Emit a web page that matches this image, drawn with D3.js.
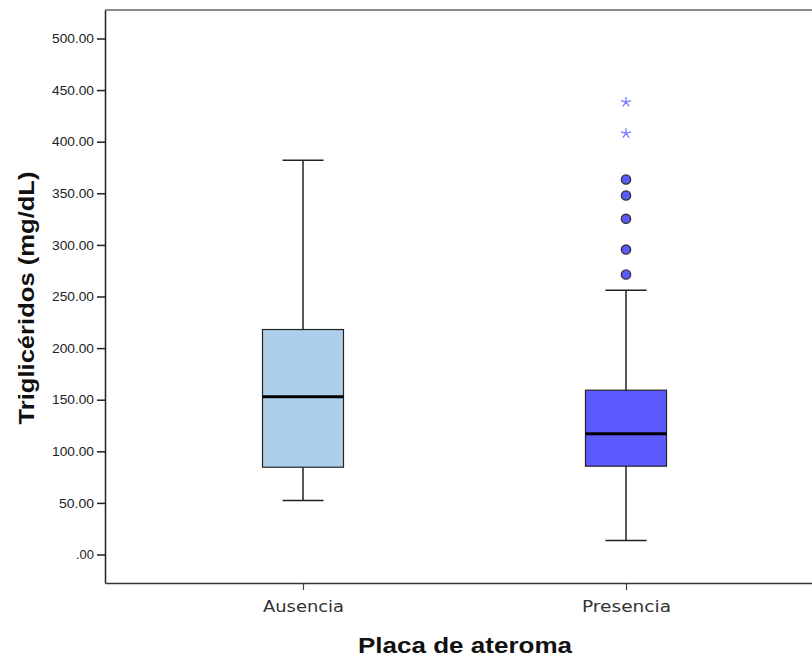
<!DOCTYPE html>
<html>
<head>
<meta charset="utf-8">
<script src="https://cdn.jsdelivr.net/npm/d3@7"></script>
<style>
body { margin:0; background:#fff; }
svg { display:block; font-family:"Liberation Sans", Arial, sans-serif; }
</style>
</head>
<body>
<div id="box-chart"></div>
<script>
var width = 812;
var height = 657;

var margin = {left:105, right:-12, top:10, bottom:74};

// data
var categories = ["Ausencia", "Presencia"];
var lowWhisker = [52.3, 13.6];
var q1 = [84.6, 85.6];
var medians = [152.8, 117.0];
var q3 = [218.0, 159.2];
var highWhisker = [382.1, 256.1];
var outlierCircles = [[], [271.3, 295.5, 325.3, 347.9, 363.4]];
var outlierStars = [[], [408.0, 438.3]];
var boxColors = ["#aecfec", "#5b5bff"];
var yTicks = [0, 50, 100, 150, 200, 250, 300, 350, 400, 450, 500];

var innerW = width - margin.left - margin.right;
var innerH = height - margin.top - margin.bottom;

var x = d3.scalePoint()
            .domain(categories)
            .range([0, innerW])
            .padding(0.613);

var y = d3.scaleLinear()
            .domain([-27.6, 527.6])
            .range([innerH, 0]);

var svg = d3.select("#box-chart")
			.append("svg")
			.attr("width", width)
			.attr("height", height);

var chartGroup = svg.append("g")
			.attr("transform", "translate(" + margin.left + "," + margin.top + ")");

// top frame line
chartGroup.append("line")
	.attr("x1", 0).attr("x2", innerW)
	.attr("y1", 0).attr("y2", 0)
	.attr("stroke", "#8c8c8c")
	.attr("stroke-width", 2);

var yAxis = d3.axisLeft(y)
			.tickValues(yTicks)
			.tickSize(8)
			.tickPadding(3)
			.tickSizeOuter(0)
			.tickFormat(function(d){ return d === 0 ? ".00" : d.toFixed(2); });

var xAxis = d3.axisBottom(x)
			.tickSize(7)
			.tickPadding(11)
			.tickSizeOuter(0);

var gy = chartGroup.append("g").attr("class","axis y").call(yAxis);
gy.select(".domain").attr("stroke","#222").attr("stroke-width",1.5);
gy.selectAll(".tick line").attr("stroke","#222").attr("stroke-width",1.5);
gy.selectAll(".tick text").attr("font-size","13px").attr("fill","#222")
	.attr("textLength", function(d){ return d === 0 ? 18 : (d < 100 ? 35 : 42); })
	.attr("lengthAdjust","spacingAndGlyphs");

var gx = chartGroup.append("g").attr("class","axis x")
	.attr("transform","translate(0," + innerH + ")")
	.call(xAxis);
gx.select(".domain").attr("stroke","#333").attr("stroke-width",1.5);
gx.selectAll(".tick line").attr("stroke","#444").attr("stroke-width",1.2);
gx.selectAll(".tick text")
	.attr("font-family","'DejaVu Sans', sans-serif")
	.attr("font-size","16px").attr("fill","#333")
	.attr("textLength", function(d){ return d === "Ausencia" ? 81 : 89; })
	.attr("lengthAdjust","spacingAndGlyphs");

var boxW = 81, capW = 41;

var groups = chartGroup.selectAll(".box")
	.data(categories)
	.enter().append("g")
	.attr("class","box")
	.attr("transform", function(d){ return "translate(" + x(d) + ",0)"; });

// whiskers
groups.append("line")
	.attr("x1",0).attr("x2",0)
	.attr("y1", function(d,i){ return y(highWhisker[i]); })
	.attr("y2", function(d,i){ return y(lowWhisker[i]); })
	.attr("stroke","#222").attr("stroke-width",1.5);

groups.append("line")
	.attr("x1",-capW/2).attr("x2",capW/2)
	.attr("y1", function(d,i){ return y(highWhisker[i]); })
	.attr("y2", function(d,i){ return y(highWhisker[i]); })
	.attr("stroke","#222").attr("stroke-width",1.5);

groups.append("line")
	.attr("x1",-capW/2).attr("x2",capW/2)
	.attr("y1", function(d,i){ return y(lowWhisker[i]); })
	.attr("y2", function(d,i){ return y(lowWhisker[i]); })
	.attr("stroke","#222").attr("stroke-width",1.5);

// boxes
groups.append("rect")
	.attr("x",-boxW/2)
	.attr("width",boxW)
	.attr("y", function(d,i){ return y(q3[i]); })
	.attr("height", function(d,i){ return y(q1[i]) - y(q3[i]); })
	.attr("fill", function(d,i){ return boxColors[i]; })
	.attr("stroke","#222").attr("stroke-width",1.2);

groups.append("line")
	.attr("x1",-boxW/2).attr("x2",boxW/2)
	.attr("y1", function(d,i){ return y(medians[i]); })
	.attr("y2", function(d,i){ return y(medians[i]); })
	.attr("stroke","#000").attr("stroke-width",3);

// outliers
groups.selectAll(".outc")
	.data(function(d,i){ return outlierCircles[i]; })
	.enter().append("circle")
	.attr("class","outc")
	.attr("cx",0)
	.attr("cy", function(v){ return y(v); })
	.attr("r",4.6)
	.attr("fill","#5b5bff")
	.attr("stroke","#333").attr("stroke-width",1.4);

var starType = {draw:function(ctx, size){
	var r = Math.sqrt(size) / 2;
	for (var k = 0; k < 5; k++) {
		var a = -Math.PI/2 + k * 2 * Math.PI / 5;
		ctx.moveTo(0,0);
		ctx.lineTo(r*Math.cos(a), r*Math.sin(a));
	}
}};
groups.selectAll(".outs")
	.data(function(d,i){ return outlierStars[i]; })
	.enter().append("path")
	.attr("class","outs")
	.attr("d", d3.symbol().type(starType).size(110))
	.attr("transform", function(v){ return "translate(0," + y(v) + ")"; })
	.attr("fill","none")
	.attr("stroke","#7878ff").attr("stroke-width",1.3);

// axis titles
svg.append("text")
	.attr("x", 465).attr("y", 653)
	.attr("text-anchor","middle")
	.attr("font-size","22px").attr("font-weight","bold")
	.attr("fill","#111")
	.attr("textLength",214).attr("lengthAdjust","spacingAndGlyphs")
	.text("Placa de ateroma");

svg.append("text")
	.attr("transform","translate(34,298) rotate(-90)")
	.attr("text-anchor","middle")
	.attr("font-size","22px").attr("font-weight","bold")
	.attr("fill","#111")
	.attr("textLength",253).attr("lengthAdjust","spacingAndGlyphs")
	.text("Triglicéridos (mg/dL)");
</script>
</body>
</html>
